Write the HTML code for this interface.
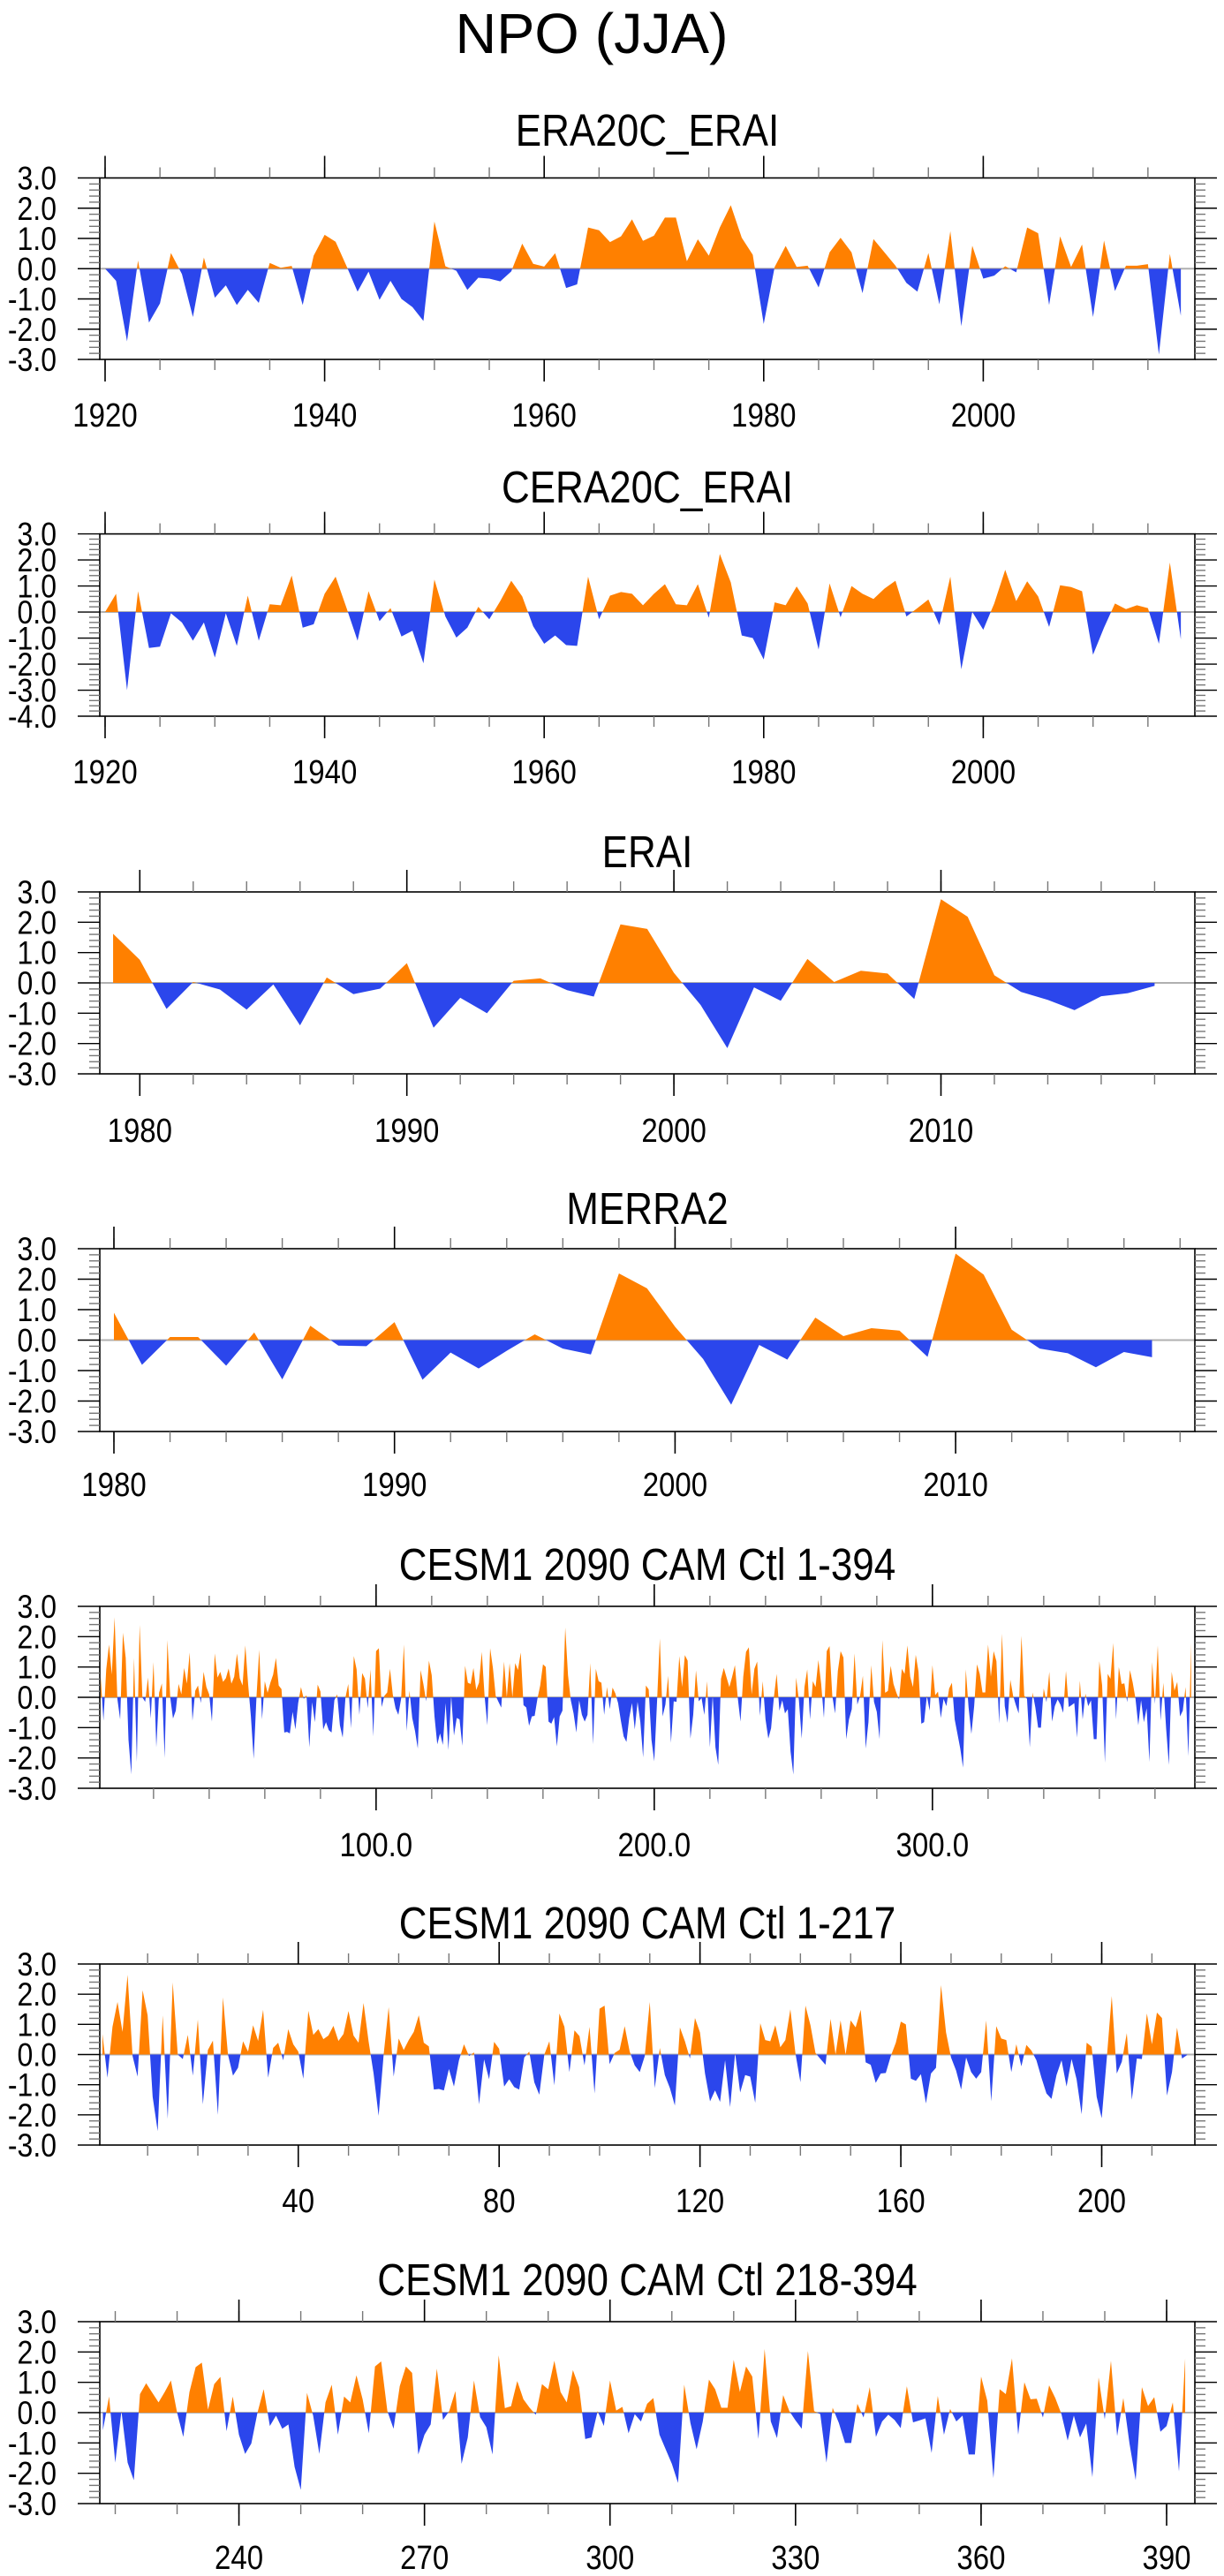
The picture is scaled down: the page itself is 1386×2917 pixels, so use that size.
<!DOCTYPE html>
<html><head><meta charset="utf-8"><title>NPO (JJA)</title>
<style>html,body{margin:0;padding:0;background:#fff}svg{display:block}text{font-family:"Liberation Sans",Arial,sans-serif;fill:#000}</style>
</head><body>
<svg id="fig" xmlns="http://www.w3.org/2000/svg" width="1386" height="2917" viewBox="0 0 1386 2917">
<rect width="1386" height="2917" fill="#fff"/>
<text x="670" y="60" font-size="64" text-anchor="middle" textLength="309" lengthAdjust="spacingAndGlyphs">NPO (JJA)</text>
</svg>
<script>
// ---- data ----
const era20cYears = [1920, 2018];
const era20cValues = [
0.0,-0.4,-2.4,0.27,-1.78,-1.15,0.52,-0.18,-1.6,0.37,
-0.96,-0.55,-1.2,-0.7,-1.13,0.19,0.03,0.09,-1.2,0.43,
1.12,0.89,0.08,-0.76,-0.1,-1.03,-0.4,-1.0,-1.27,-1.73,
1.56,0.08,-0.07,-0.7,-0.3,-0.33,-0.42,-0.09,0.83,0.16,
0.07,0.51,-0.64,-0.52,1.36,1.27,0.88,1.07,1.63,0.92,
1.09,1.69,1.69,0.25,0.97,0.43,1.36,2.1,1.02,0.46,
-1.83,0.06,0.75,0.06,0.1,-0.62,0.54,1.02,0.54,-0.81,
0.98,0.54,0.1,-0.47,-0.76,0.52,-1.18,1.24,-1.9,0.76,
-0.33,-0.23,0.08,-0.12,1.36,1.17,-1.2,1.07,0.06,0.8,
-1.6,0.93,-0.74,0.1,0.1,0.15,-2.84,0.49,-1.56];
const cera20cValues = [
0,0.7,-3.0,0.8,-1.38,-1.33,-0.05,-0.4,-1.1,-0.4,
-1.75,-0.05,-1.3,0.63,-1.1,0.3,0.26,1.4,-0.6,-0.47,
0.7,1.36,0.15,-1.1,0.8,-0.35,0.15,-0.94,-0.72,-1.97,
1.25,-0.17,-0.98,-0.6,0.2,-0.28,0.42,1.2,0.6,-0.55,
-1.22,-0.9,-1.27,-1.3,1.36,-0.28,0.63,0.77,0.7,0.26,
0.7,1.07,0.3,0.26,1.07,-0.22,2.23,1.14,-0.9,-1.0,
-1.82,0.37,0.26,0.98,0.33,-1.44,1.1,-0.2,1.0,0.7,
0.5,0.9,1.2,-0.17,0.15,0.48,-0.5,1.36,-2.2,0.0,
-0.68,0.33,1.62,0.42,1.18,0.6,-0.57,1.03,0.96,0.8,
-1.64,-0.6,0.33,0.11,0.26,0.15,-1.22,1.9,-1.05];
const eraiValues = [
1.62,0.76,-0.86,0.03,-0.22,-0.88,-0.05,-1.4,0.18,-0.37,
-0.19,0.65,-1.48,-0.49,-1.0,0.07,0.15,-0.24,-0.45,1.93,
1.78,0.33,-0.73,-2.15,-0.15,-0.59,0.79,0.03,0.4,0.31,
-0.53,2.76,2.18,0.25,-0.3,-0.56,-0.9,-0.44,-0.34,-0.1];
const merra2Values = [
0.9,-0.81,0.1,0.1,-0.84,0.25,-1.29,0.47,-0.18,-0.2,
0.59,-1.3,-0.41,-0.93,-0.35,0.19,-0.28,-0.47,2.19,1.7,
0.44,-0.62,-2.12,-0.16,-0.64,0.74,0.13,0.39,0.31,-0.55,
2.84,2.15,0.34,-0.28,-0.43,-0.89,-0.39,-0.56];
const cesmPart1 = [
0.68,-0.77,0.92,1.74,0.75,2.64,-0.05,-0.73,2.13,1.3,
-1.4,-2.54,1.3,-2.13,2.39,0,-0.15,0.65,-0.7,1.16,
-1.65,0.15,0.46,-2.0,1.89,0.0,-0.7,-0.44,0.44,0.1,
0.97,0.45,1.48,-0.77,0.22,0.39,-0.19,0.84,0.34,0.1,
-0.8,1.45,0.65,0.84,0.51,0.63,0.95,0.45,0.68,1.44,
0.63,0.39,1.71,0.44,-0.63,-2.03,0,1.57,-0.73,0.53,
0.15,0.48,0.75,1.3,0.39,0.27,-1.16,-1.14,-1.19,-0.48,
-1.06,-0.19,0.34,
-0.05,0.07,-1.65,-0.16,-0.82,0.42,0.19,-1.06,-0.82,-1.08,
-1.16,-0.1,0.1,-0.92,-1.33,0,0.44,-1.02,1.36,0.92,
-0.58,0.8,0.61,-0.36,0.92,-1.29,1.52,1.62,-0.32,0.05,
0.16,0.94,0.1,-0.36,-0.58,-0.05,1.74,-1.11,0.22,-0.68,
-1.11,-1.69,0.9,0.44,-0.13,1.21,0.73,-0.63,-1.55,-1.19,
-1.57,-0.19,-1.74,0.05,-1.26,-0.68,-0.73,-1.6,1.04,0.48,
0.44,0.97,0.24,0.48,1.5,0.05,-0.92,1.62,0.97,0.05,
-0.15,-0.34,1.18,
0.0,1.13,0.0,1.13,0.9,1.48,-0.26,-0.34,-0.94,-0.63,
-0.61,-0.05,0.39,1.09,1.0,-0.8,-0.87,-0.65,-1.62,-0.63,
-0.44,2.3,0.73,-0.1,-0.53,-1.16,-0.1,-0.58,-0.8,-0.58,
1.13,-1.55,0.94,0.53,0.48,-0.58,0.34,-0.39,0.32,0.13,
-0.19,-0.77,-1.29,-1.47,-0.68,-0.19,-1.06,-0.15,-0.82,-1.98,
0.39,0.26,-1.4,-2.11,-0.15,1.94,-0.63,-0.24,0.71,-1.5,
-0.13,-0.15,1.36,0.34,1.39,1.21,-1.36,-0.58,0.89,-0.13,
-0.02];
const cesmPart2 = [
-0.58,0.53,-1.65,0.05,-1.65,-2.23,0.61,0.97,0.65,0.34,
0.68,1.06,0,-0.8,0.68,1.5,1.65,0.1,0.94,1.18,
-0.61,0.53,-0.73,-1.36,-1.02,0,0.77,-0.44,-0.1,-0.53,
-0.39,-1.79,-2.55,0.65,-0.1,-1.36,0.34,0.92,-0.73,0.53,
0.34,1.23,0.44,-0.68,1.52,1.69,0.05,-0.53,0.87,1.52,
1.31,-1.38,-0.73,-0.39,1.45,-0.24,0.05,0.71,-1.69,
-0.82,1.06,-0.15,-0.48,-1.38,1.89,0.15,0.21,1.04,0.44,
0.16,-0.07,0.94,0.77,1.71,0.68,0.34,1.4,0.84,-0.87,
-0.82,0.05,-0.44,1.06,0.07,0.19,-0.68,-0.05,-0.29,0.29,
0.48,-0.73,-1.21,-1.69,-2.32,0.92,-0.34,-1.21,-0.29,1.09,
0.77,0.16,0.16,1.74,0.68,1.52,1.19,-0.87,2.1,-0.29,
-0.84,0.58,0.05,-0.26,-0.53,2.03,0.05,-0.05,-1.65,0.16,
-0.34,-1.0,-1.0,0.29,-0.16,0.84,-0.8,-0.29,-0.07,-0.24,
-0.51,0.87,-0.32,-0.26,-0.19,-1.33,0.55,-0.73,0.12,-0.29,
-0.1,-1.38,-1.38,1.19,0.39,-2.16,0.77,0.61,1.79,-0.73,
1.0,0.44,0.46,-0.16,0.9,0.48,-0.05,-0.92,-0.1,-0.82,
-0.36,-2.13,1.16,-0.22,1.71,-0.77,0.48,-1.02,-2.23,0.84,
0.22,0.51,-0.63,-0.44,0.34,-1.94,1.79];
const cesmAll = cesmPart1.concat(cesmPart2);
const yTickLabelsA = ["3.0","2.0","1.0","0.0","-1.0","-2.0","-3.0"];
const yTickLabelsB = ["3.0","2.0","1.0","0.0","-1.0","-2.0","-3.0","-4.0"];

const NS = "http://www.w3.org/2000/svg";
const svg = document.getElementById("fig");
const ORANGE = "#ff8000", BLUE = "#2b46ec";
const FL = 113, FR = 1353;

function mk(tag, attrs, parent) {
  const e = document.createElementNS(NS, tag);
  for (const k in attrs) e.setAttribute(k, attrs[k]);
  (parent || svg).appendChild(e);
  return e;
}
// make text narrower/taller like reference: keep width, enlarge size
function tall(el, size) {
  const w = el.getComputedTextLength();
  el.setAttribute("font-size", (size * 1.15).toFixed(1));
  el.setAttribute("textLength", w.toFixed(1));
  el.setAttribute("lengthAdjust", "spacingAndGlyphs");
}

function panel(p) {
  const g = mk("g", {});
  
  
  const ys = v => p.top + (p.ymax - v) / (p.ymax - p.ymin) * (p.bottom - p.top);
  const y0 = ys(0);
  const t = mk("text", {x: 733, y: p.titleY + 17, "font-size": 44, "text-anchor": "middle"}, g);
  
  
  t.textContent = p.title;
  tall(t, 44);
  const zl = mk("line", {x1: FL, x2: FR, y1: y0, y2: y0, stroke: "#b0b0b0", "stroke-width": 2}, g);
  
  
  let d = "M" + p.xs(p.start).toFixed(2) + "," + y0.toFixed(2);
  p.values.forEach((v, i) => { d += " L" + p.xs(p.start + i).toFixed(2) + "," + ys(v).toFixed(2); });
  d += " L" + p.xs(p.start + p.values.length - 1).toFixed(2) + "," + y0.toFixed(2) + " Z";
  const cpP = mk("clipPath", {id: p.id + "-cp"}, g);
  mk("rect", {x: 0, y: p.top, width: 1386, height: y0 - p.top}, cpP);
  const cnP = mk("clipPath", {id: p.id + "-cn"}, g);
  mk("rect", {x: 0, y: y0, width: 1386, height: p.bottom - y0}, cnP);
  const pos = mk("path", {d: d, fill: ORANGE, "clip-path": "url(#" + p.id + "-cp)"}, g);
  
  
  const neg = mk("path", {d: d, fill: BLUE, "clip-path": "url(#" + p.id + "-cn)"}, g);
  
  
  const fr = mk("rect", {x: FL, y: p.top, width: FR - FL, height: p.bottom - p.top, fill: "none", stroke: "#000", "stroke-width": 1.6}, g);
  
  
  const labels = p.ymin === -4 ? yTickLabelsB : yTickLabelsA;
  for (let k = 0; k <= (p.ymax - p.ymin) * 5; k++) {
    const v = p.ymax - k * 0.2;
    const y = ys(v);
    const major = k % 5 === 0;
    const len = major ? 25 : 12;
    mk("line", {x1: FL - len, x2: FL, y1: y, y2: y, stroke: major ? "#000" : "#777", "stroke-width": 1.4}, g);
    mk("line", {x1: FR, x2: FR + len, y1: y, y2: y, stroke: major ? "#000" : "#777", "stroke-width": 1.4}, g);
  }
  labels.forEach((lab, k) => {
    const lt = mk("text", {x: 64, y: ys(p.ymax - k) + 13, "font-size": 32, "text-anchor": "end"}, g);
    
    
    lt.textContent = lab;
    tall(lt, 32);
  });
  p.minors.forEach(m => {
    const x = p.xs(m);
    mk("line", {x1: x, x2: x, y1: p.top - 12, y2: p.top, stroke: "#777", "stroke-width": 1.4}, g);
    mk("line", {x1: x, x2: x, y1: p.bottom, y2: p.bottom + 12, stroke: "#777", "stroke-width": 1.4}, g);
  });
  p.majors.forEach(m => {
    const x = p.xs(m);
    mk("line", {x1: x, x2: x, y1: p.top - 25, y2: p.top, stroke: "#000", "stroke-width": 1.6}, g);
    mk("line", {x1: x, x2: x, y1: p.bottom, y2: p.bottom + 25, stroke: "#000", "stroke-width": 1.6}, g);
    const xt = mk("text", {x: x, y: p.labelY + 13, "font-size": 33, "text-anchor": "middle"}, g);
    
    
    xt.textContent = p.fmt(m);
    tall(xt, 33);
  });
}
function range(a, b, s) { const r = []; for (let v = a; v <= b + 1e-9; v += s) r.push(v); return r; }

panel({id: "era20c", title: "ERA20C_ERAI", titleY: 148, top: 201.5, bottom: 407, ymin: -3, ymax: 3,
  values: era20cValues, start: era20cYears[0], xs: t => 119 + (t - 1920) * 12.43,
  majors: range(1920, 2000, 20), minors: range(1920, 2015, 5), labelY: 470, fmt: v => String(v)});
panel({id: "cera20c", title: "CERA20C_ERAI", titleY: 552, top: 604.6, bottom: 811, ymin: -4, ymax: 3,
  values: cera20cValues, start: 1920, xs: t => 119 + (t - 1920) * 12.43,
  majors: range(1920, 2000, 20), minors: range(1920, 2015, 5), labelY: 874, fmt: v => String(v)});
panel({id: "erai", title: "ERAI", titleY: 965, top: 1010, bottom: 1216, ymin: -3, ymax: 3,
  values: eraiValues, start: 1979, xs: t => 158.3 + (t - 1980) * 30.24,
  majors: range(1980, 2010, 10), minors: range(1980, 2018, 2), labelY: 1280, fmt: v => String(v)});
panel({id: "merra2", title: "MERRA2", titleY: 1369, top: 1414, bottom: 1621, ymin: -3, ymax: 3,
  values: merra2Values, start: 1980, xs: t => 129 + (t - 1980) * 31.77,
  majors: range(1980, 2010, 10), minors: range(1980, 2018, 2), labelY: 1681, fmt: v => String(v)});
panel({id: "cesm-all", title: "CESM1 2090 CAM Ctl 1-394", titleY: 1772, top: 1819, bottom: 2025, ymin: -3, ymax: 3,
  values: cesmAll, start: 1, xs: i => 114 + (i - 1) * 3.15,
  majors: range(100, 300, 100), minors: range(20, 380, 20), labelY: 2089, fmt: v => v.toFixed(1)});
panel({id: "cesm-first", title: "CESM1 2090 CAM Ctl 1-217", titleY: 2178, top: 2224, bottom: 2429, ymin: -3, ymax: 3,
  values: cesmPart1, start: 1, xs: i => 116 + (i - 1) * 5.686,
  majors: range(40, 200, 40), minors: range(10, 210, 10), labelY: 2492, fmt: v => String(v)});
panel({id: "cesm-second", title: "CESM1 2090 CAM Ctl 218-394", titleY: 2582, top: 2629, bottom: 2835, ymin: -3, ymax: 3,
  values: cesmPart2, start: 218, xs: i => 116.5 + (i - 218) * 7.003,
  majors: range(240, 390, 30), minors: range(220, 390, 10), labelY: 2896, fmt: v => String(v)});
</script>
</body></html>
